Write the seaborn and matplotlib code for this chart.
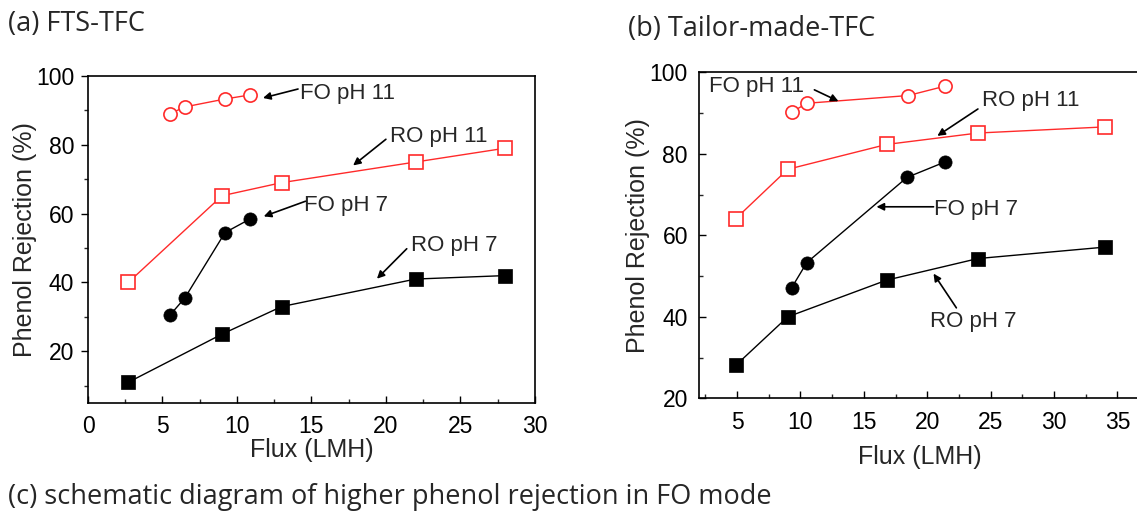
import numpy as np
import pandas as pd
import seaborn as sns
import matplotlib.pyplot as plt
from matplotlib.ticker import MultipleLocator

# (a) FTS-TFC
a_fo11_x = [5.5, 6.5, 9.2, 10.9]
a_fo11_y = [89.0, 91.0, 93.3, 94.5]
a_ro11_x = [2.7, 9.0, 13.0, 22.0, 28.0]
a_ro11_y = [40.0, 65.2, 69.0, 75.0, 79.0]
a_fo7_x = [5.5, 6.5, 9.2, 10.9]
a_fo7_y = [30.5, 35.5, 54.5, 58.5]
a_ro7_x = [2.7, 9.0, 13.0, 22.0, 28.0]
a_ro7_y = [11.0, 25.0, 33.0, 41.0, 42.0]

# (b) Tailor-made-TFC
b_fo11_x = [9.3, 10.5, 18.5, 21.4]
b_fo11_y = [90.2, 92.4, 94.3, 96.6]
b_ro11_x = [4.9, 9.0, 16.8, 24.0, 34.0]
b_ro11_y = [64.1, 76.2, 82.3, 85.1, 86.6]
b_fo7_x = [9.3, 10.5, 18.4, 21.4]
b_fo7_y = [47.1, 53.3, 74.2, 78.0]
b_ro7_x = [4.9, 9.0, 16.8, 24.0, 34.0]
b_ro7_y = [28.1, 40.0, 49.0, 54.3, 57.1]

sns.set_style('ticks')
plt.rcParams['font.family'] = ['Liberation Sans', 'DejaVu Sans']

RED = '#ff2a2a'
fig = plt.figure(figsize=(11.37, 5.11), dpi=100)
ax1 = fig.add_axes([0.0774, 0.2114, 0.393, 0.640])
ax2 = fig.add_axes([0.6148, 0.2205, 0.388, 0.638])


def draw(ax, x, y, color, marker, filled):
    df = pd.DataFrame({'x': x, 'y': y})
    sns.lineplot(data=df, x='x', y='y', ax=ax, color=color, lw=1.0, sort=False,
                 marker=marker, markersize=9.5,
                 markerfacecolor=color if filled else 'white',
                 markeredgecolor=color, markeredgewidth=1.2 if not filled else 0.5)


draw(ax1, a_fo11_x, a_fo11_y, RED, 'o', False)
draw(ax1, a_ro11_x, a_ro11_y, RED, 's', False)
draw(ax1, a_fo7_x, a_fo7_y, 'black', 'o', True)
draw(ax1, a_ro7_x, a_ro7_y, 'black', 's', True)

draw(ax2, b_fo11_x, b_fo11_y, RED, 'o', False)
draw(ax2, b_ro11_x, b_ro11_y, RED, 's', False)
draw(ax2, b_fo7_x, b_fo7_y, 'black', 'o', True)
draw(ax2, b_ro7_x, b_ro7_y, 'black', 's', True)

arrow = dict(arrowstyle='-|>', color='black', lw=1.2, mutation_scale=11, shrinkA=0, shrinkB=0)

# annotations (a)
ann_a = [
    ('FO pH 11', (14.2, 95.0), (14.1, 96.2), (11.75, 93.6)),
    ('RO pH 11', (20.3, 82.4), (20.0, 81.6), (17.8, 74.0)),
    ('FO pH 7', (14.5, 62.4), (14.6, 63.6), (11.8, 59.2)),
    ('RO pH 7', (21.7, 50.8), (21.4, 49.8), (19.4, 41.1)),
]
for txt, pos, tail, head in ann_a:
    ax1.text(pos[0], pos[1], txt, fontsize=16, va='center', ha='left')
    ax1.annotate('', xy=head, xytext=tail, arrowprops=arrow)

# annotations (b)
ann_b = [
    ('FO pH 11', (2.8, 96.6), (11.1, 95.7), (13.0, 92.9)),
    ('RO pH 11', (24.3, 93.0), (24.0, 91.0), (20.8, 84.4)),
    ('FO pH 7', (20.5, 66.4), (20.5, 67.0), (16.0, 67.0)),
    ('RO pH 7', (20.2, 38.9), (22.3, 42.2), (20.5, 50.6)),
]
for txt, pos, tail, head in ann_b:
    ax2.text(pos[0], pos[1], txt, fontsize=16, va='center', ha='left')
    ax2.annotate('', xy=head, xytext=tail, arrowprops=arrow)

ax1.set_xlim(0, 30)
ax1.set_ylim(5, 100)
ax1.xaxis.set_major_locator(MultipleLocator(5))
ax1.xaxis.set_minor_locator(MultipleLocator(2.5))
ax1.yaxis.set_major_locator(MultipleLocator(20))
ax1.yaxis.set_minor_locator(MultipleLocator(10))
ax1.tick_params(axis='x', which='both', direction='in', pad=9)
ax1.tick_params(axis='y', which='both', direction='out', pad=5)

ax2.set_xlim(2.0, 36.8)
ax2.set_ylim(20, 100)
ax2.xaxis.set_major_locator(MultipleLocator(5))
ax2.xaxis.set_minor_locator(MultipleLocator(2.5))
ax2.yaxis.set_major_locator(MultipleLocator(20))
ax2.yaxis.set_minor_locator(MultipleLocator(10))
ax2.tick_params(axis='both', which='both', direction='in')
ax2.tick_params(axis='x', pad=9)
ax2.tick_params(axis='y', pad=8)

for ax in (ax1, ax2):
    ax.tick_params(which='major', length=5, width=1, labelsize=16.5, colors='black')
    ax.tick_params(which='minor', length=3, width=1)
    for s in ax.spines.values():
        s.set_linewidth(1.2)
        s.set_color('black')
    ax.set_xlabel('Flux (LMH)', fontsize=18)
    ax.set_ylabel('Phenol Rejection (%)', fontsize=18)

ax1.xaxis.labelpad = 0
ax1.yaxis.labelpad = -1
ax2.xaxis.labelpad = 8
ax2.yaxis.labelpad = 0

fig.text(8 / 1137, 1 - 24 / 511, '(a) FTS-TFC', fontsize=19.5, family='Open Sans', va='center', ha='left')
fig.text(628 / 1137, 1 - 29 / 511, '(b) Tailor-made-TFC', fontsize=19.5, family='Open Sans', va='center', ha='left')
fig.text(8 / 1137, 1 - 497 / 511, '(c) schematic diagram of higher phenol rejection in FO mode',
         fontsize=19.5, family='Open Sans', va='center', ha='left')

fig.savefig('out.png', dpi=100)
